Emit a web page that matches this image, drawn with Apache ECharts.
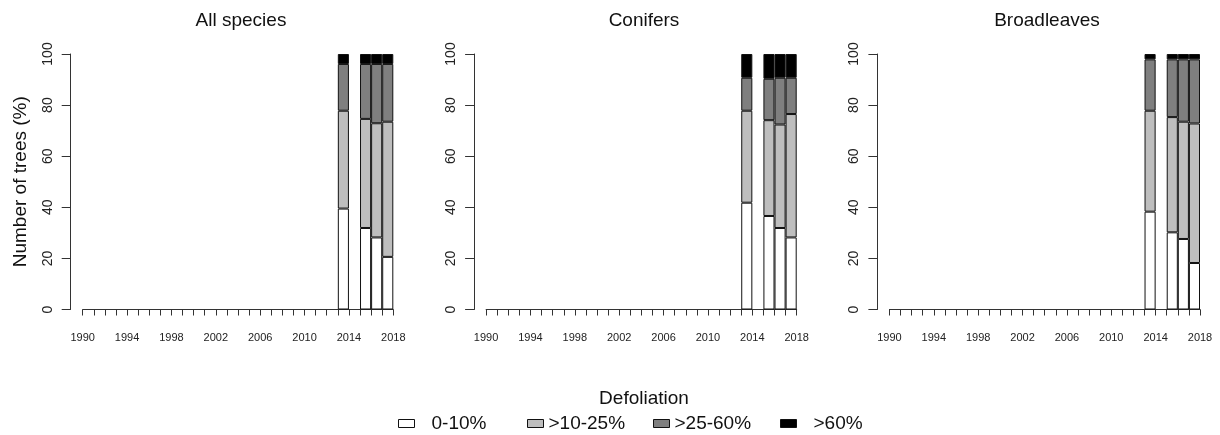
<!DOCTYPE html>
<html>
<head>
<meta charset="utf-8">
<script src="https://cdn.jsdelivr.net/npm/echarts@6/dist/echarts.min.js"></script>
<style>
html,body{margin:0;padding:0;background:#fff;}
#chart{width:1220px;height:435px;}
</style>
</head>
<body>
<div id="chart"></div>
<script>
// ---- data ----
var yearSlots = [1991,1992,1993,1994,1995,1996,1997,1998,1999,2000,2001,2002,2003,2004,2005,2006,2007,2008,2009,2010,2011,2012,2013,2014,2015,2016,2017,2018];
var surveyYears = [2014, 2016, 2017, 2018];
var panelTitles = ['All species', 'Conifers', 'Broadleaves'];
var classNames = ['0-10%', '>10-25%', '>25-60%', '>60%'];
var classColors = ['#ffffff', '#bebebe', '#7f7f7f', '#000000'];
var yTicks = [0, 20, 40, 60, 80, 100];
var xTickLabels = [1990, 1994, 1998, 2002, 2006, 2010, 2014, 2018];

// All species: shares per defoliation class for surveyYears
var allSp_c1 = [39.5, 31.9, 28.2, 20.6];
var allSp_c2 = [38.3, 42.7, 44.7, 52.9];
var allSp_c3 = [18.3, 21.5, 23.2, 22.6];
var allSp_c4 = [3.9, 3.9, 3.9, 3.9];
// Conifers
var conif_c1 = [41.8, 36.6, 31.9, 28.2];
var conif_c2 = [36.0, 37.5, 40.5, 48.3];
var conif_c3 = [12.9, 16.2, 18.3, 14.2];
var conif_c4 = [9.3, 9.7, 9.3, 9.3];
// Broadleaves
var broad_c1 = [38.3, 30.2, 27.6, 18.2];
var broad_c2 = [39.5, 45.1, 45.9, 54.6];
var broad_c3 = [20.1, 22.6, 24.4, 25.1];
var broad_c4 = [2.1, 2.1, 2.1, 2.1];

var panelData = [
  [allSp_c1, allSp_c2, allSp_c3, allSp_c4],
  [conif_c1, conif_c2, conif_c3, conif_c4],
  [broad_c1, broad_c2, broad_c3, broad_c4]
];

// ---- layout ----
var FONT = "'Liberation Sans', Arial, sans-serif";
var gridLefts = [82.7, 486.1, 889.4];
var gridWidth = 310.6;
var gridTop = 54;
var gridHeight = 255.5;
var titleCenters = [236, 639, 1042];

function fullSeries(vals) {
  return yearSlots.map(function (y) {
    var i = surveyYears.indexOf(y);
    return i >= 0 ? vals[i] : null;
  });
}

var grids = [], xAxes = [], yAxes = [], series = [], titles = [];
for (var p = 0; p < 3; p++) {
  grids.push({left: gridLefts[p], top: gridTop, width: gridWidth, height: gridHeight, containLabel: false});
  // value axis for ticks & labels at year boundaries
  xAxes.push({
    type: 'value', gridIndex: p, min: xTickLabels[0], max: xTickLabels[xTickLabels.length - 1], interval: 1,
    axisLine: {show: true, onZero: false, lineStyle: {color: '#333', width: 1}},
    axisTick: {show: true, length: 6, lineStyle: {color: '#333', width: 1}},
    splitLine: {show: false},
    axisLabel: {
      show: true, margin: 23, color: '#222', fontFamily: FONT, fontSize: 11,
      showMinLabel: true, showMaxLabel: true,
      formatter: function (v) { return xTickLabels.indexOf(v) >= 0 ? String(v) : ''; }
    }
  });
  // hidden category axis carrying the bars
  xAxes.push({
    type: 'category', gridIndex: p, data: yearSlots, show: false, boundaryGap: true
  });
  yAxes.push({
    type: 'value', gridIndex: p, min: yTicks[0], max: yTicks[yTicks.length - 1], interval: 20,
    offset: 12,
    name: p === 0 ? 'Number of trees (%)' : '',
    nameLocation: 'middle', nameGap: 40, nameRotate: 90,
    nameTextStyle: {fontFamily: FONT, fontSize: 19, color: '#111'},
    axisLine: {show: true, lineStyle: {color: '#333', width: 1}},
    axisTick: {show: true, length: 9, lineStyle: {color: '#333', width: 1}},
    splitLine: {show: false},
    axisLabel: {rotate: 90, margin: 16, fontFamily: FONT, fontSize: 14, color: '#222'}
  });
  titles.push({
    text: panelTitles[p], left: titleCenters[p], top: 6, textAlign: 'center',
    textStyle: {fontFamily: FONT, fontSize: 19, fontWeight: 'normal', color: '#111'}
  });
  for (var k = 0; k < 4; k++) {
    series.push({
      type: 'bar', name: classNames[k], xAxisIndex: 2 * p + 1, yAxisIndex: p, stack: 'panel' + p,
      barWidth: '100%', barCategoryGap: '0%',
      data: fullSeries(panelData[p][k]),
      itemStyle: {color: classColors[k], borderColor: '#111', borderWidth: 1},
      emphasis: {disabled: true},
      animation: false
    });
  }
}
titles.push({
  text: 'Defoliation', left: 639, top: 384, textAlign: 'center',
  textStyle: {fontFamily: FONT, fontSize: 19, fontWeight: 'normal', color: '#111'}
});

var legendLefts = [393, 522, 648, 775];
var legendPads = [12, 0, 0, 12];
var legends = classNames.map(function (n, i) {
  return {
    data: [n], left: legendLefts[i], top: 409, orient: 'horizontal',
    itemWidth: 16, itemHeight: 8, selectedMode: false, icon: 'rect',
    itemStyle: {borderColor: '#111', borderWidth: 1},
    textStyle: {fontFamily: FONT, fontSize: 19, color: '#111', padding: [0, 0, 0, legendPads[i]]}
  };
});

var chart = echarts.init(document.getElementById('chart'), null, {renderer: 'canvas'});
chart.setOption({
  animation: false,
  backgroundColor: '#ffffff',
  title: titles,
  legend: legends,
  grid: grids,
  xAxis: xAxes,
  yAxis: yAxes,
  series: series
});
</script>
</body>
</html>
